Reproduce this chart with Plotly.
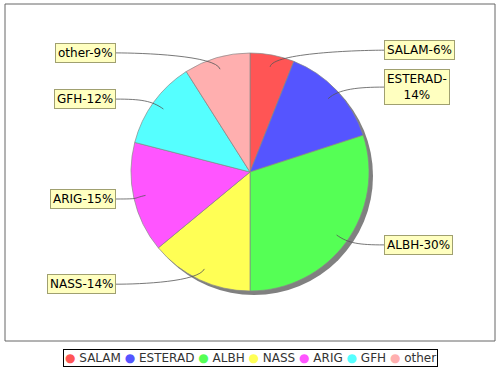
import math
import plotly.graph_objects as go

categories = ["SALAM", "ESTERAD", "ALBH", "NASS", "ARIG", "GFH", "other"]
values = [6, 14, 30, 14, 15, 12, 9]
colors = ["#FF5555", "#5555FF", "#55FF55", "#FFFF55", "#FF55FF", "#55FFFF", "#FFAFAF"]
label_texts = ["SALAM-6%", "ESTERAD-<br>14%", "ALBH-30%", "NASS-14%", "ARIG-15%", "GFH-12%", "other-9%"]

W, H = 500, 370
CX, CY, R = 250, 172, 119
SHADOW = 4
FONT = "DejaVu Sans"

fig = go.Figure()

def dom(cx, cy, r):
    return dict(x=[(cx - r) / W, (cx + r) / W], y=[(H - cy - r) / H, (H - cy + r) / H])

# shadow
fig.add_trace(go.Pie(values=[1], marker=dict(colors=["#808080"], line=dict(width=0)),
                     domain=dom(CX + SHADOW, CY + SHADOW, R), textinfo="none",
                     hoverinfo="skip", showlegend=False, sort=False))
# main pie
fig.add_trace(go.Pie(labels=categories, values=values, sort=False, direction="clockwise",
                     rotation=0, textinfo="none", showlegend=False,
                     marker=dict(colors=colors, line=dict(color="#888888", width=0.7)),
                     domain=dom(CX, CY, R)))

# invisible axes in pixel units
fig.update_xaxes(range=[0, W], visible=False, domain=[0, 1], fixedrange=True)
fig.update_yaxes(range=[H, 0], visible=False, domain=[0, 1], fixedrange=True)
fig.add_trace(go.Scatter(x=[None], y=[None], showlegend=False, hoverinfo="skip"))

shapes = []
annotations = []
# plot area outline
shapes.append(dict(type="rect", xref="x", yref="y", x0=5, y0=4, x1=495, y1=341,
                   line=dict(color="#666666", width=1), layer="below"))

total = sum(values)
cum = 0
RL = 124
for cat, v, txt in zip(categories, values, label_texts):
    mid = (cum + v / 2) / total * 2 * math.pi
    cum += v
    s, c = math.sin(mid), math.cos(mid)
    side = 1 if s >= 0 else -1
    ly = CY - c * RL
    lx = 384 if side > 0 else 116
    ax, ay = CX + 0.9 * R * s, CY - 0.9 * R * c
    c1x, c1y = CX + 1.02 * R * s, CY - 1.02 * R * c
    c2x, c2y = lx - side * 25, ly
    shapes.append(dict(type="path", xref="x", yref="y",
                       path=f"M {ax:.1f},{ay:.1f} C {c1x:.1f},{c1y:.1f} {c2x:.1f},{c2y:.1f} {lx:.1f},{ly:.1f}",
                       line=dict(color="#555555", width=0.8)))
    annotations.append(dict(x=lx, y=ly, xref="x", yref="y", text=txt, showarrow=False,
                            xanchor="left" if side > 0 else "right", yanchor="middle",
                            align="center", bgcolor="#FFFFC0", bordercolor="#A0A070",
                            borderwidth=1, borderpad=2,
                            font=dict(family=FONT, size=12, color="#000000")))

legend_text = " ".join(f"<span style='color:{col}'>●</span> {cat}" for cat, col in zip(categories, colors))
annotations.append(dict(x=250, y=357.5, xref="x", yref="y", text=legend_text, showarrow=False,
                        xanchor="center", yanchor="middle", bgcolor="#FFFFFF",
                        bordercolor="#000000", borderwidth=1, borderpad=1,
                        font=dict(family=FONT, size=12, color="#333333")))

fig.update_layout(width=W, height=H, margin=dict(l=0, r=0, t=0, b=0),
                  paper_bgcolor="#FFFFFF", plot_bgcolor="rgba(0,0,0,0)",
                  shapes=shapes, annotations=annotations, showlegend=False,
                  font=dict(family=FONT))

fig.write_html("out.html", config={"displayModeBar": False},
               post_script="document.body.style.margin='0';document.body.style.overflow='hidden';")
